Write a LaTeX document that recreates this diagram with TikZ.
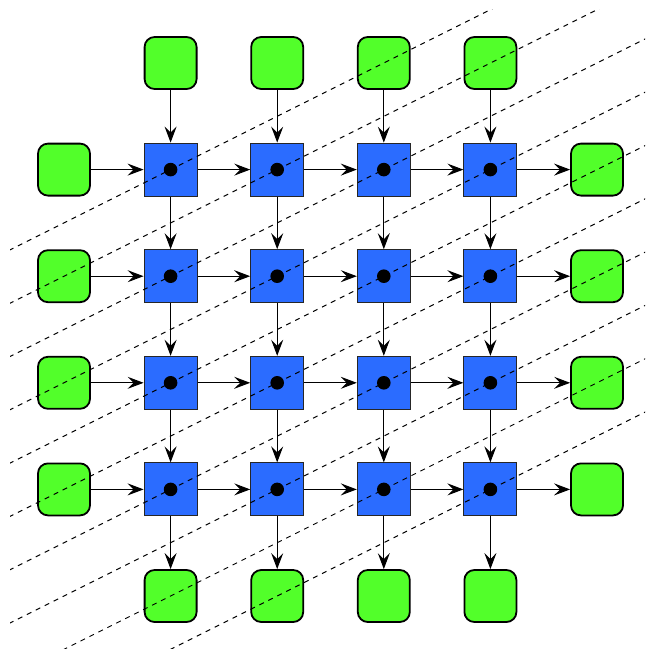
\documentclass[tikz,border=0pt]{standalone}
\usetikzlibrary{arrows.meta}
\definecolor{peblue}{RGB}{43,108,255}
\definecolor{iogreen}{RGB}{82,255,42}
\begin{document}
\begin{tikzpicture}[x=1pt,y=-1pt,
  pe/.style={draw=black!85, line width=1pt, fill=peblue, minimum size=53pt, inner sep=0pt,
    path picture={\fill[black] (path picture bounding box.center) circle (6.8pt);}},
  io/.style={draw=black, line width=1.8pt, fill=iogreen, minimum size=52pt, inner sep=0pt, rounded corners=10pt},
  flow/.style={-{Stealth[length=16pt,width=12pt,inset=6pt]}, line width=1pt, draw=black},
  wave/.style={dash pattern=on 5pt off 5pt, line width=1pt}]
\useasboundingbox (0,0) rectangle (645,653);
% input / output cells
\foreach \i in {1,...,4} {
  \node[io] (t\i) at ({64+106.6*\i},63) {};
  \node[io] (b\i) at ({64+106.6*\i},{63+106.6*5}) {};
  \node[io] (l\i) at (64,{63+106.6*\i}) {};
  \node[io] (r\i) at ({64+106.6*5},{63+106.6*\i}) {};
}
% processing elements
\foreach \i in {1,...,4} {
  \foreach \j in {1,...,4} {
    \node[pe] (p\i\j) at ({64+106.6*\i},{63+106.6*\j}) {};
  }
}
% connectors
\foreach \i in {1,...,4} {
  \draw[flow] (t\i) -- (p\i1);
  \draw[flow] (p\i4) -- (b\i);
  \draw[flow] (l\i) -- (p1\i);
  \draw[flow] (p4\i) -- (r\i);
}
\foreach \i in {1,...,4} {
  \foreach \j [evaluate=\j as \jn using int(\j+1)] in {1,...,3} {
    \draw[flow] (p\i\j) -- (p\i\jn);
    \draw[flow] (p\j\i) -- (p\jn\i);
  }
}
% wavefronts
\begin{scope}
  \clip (10,9) rectangle (645,648);
  \foreach \k in {0,...,9} {
    \pgfmathsetmacro\cc{254.9+53.3*\k}
    \draw[wave] (0,\cc) -- (800,\cc-400);
  }
\end{scope}
\end{tikzpicture}
\end{document}
